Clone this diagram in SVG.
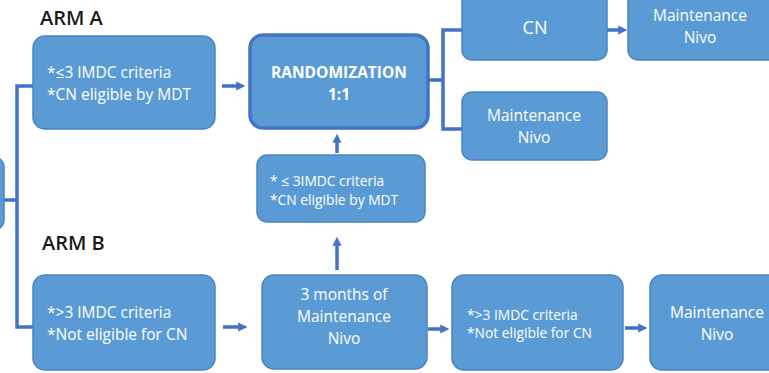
<svg xmlns="http://www.w3.org/2000/svg" width="769" height="373" viewBox="0 0 769 373">
<defs>
<style>
.box{fill:#5B9BD5;stroke:#4A84BE;stroke-width:1.5}
.rand{fill:#5B9BD5;stroke:#4472C4;stroke-width:3.5}
.t{fill:#fff;font-family:"Open Sans","Liberation Sans",Arial,sans-serif;font-size:15.5px}
.t.s{font-size:13.8px}
.t.b{font-size:15.5px;font-weight:bold}
.t.cn{font-size:18px}
.lbl{fill:#1a1a1a;font-family:"Open Sans","Liberation Sans",Arial,sans-serif;font-size:20px;font-weight:600}
.ln{fill:none;stroke:#4472C4;stroke-width:3.5}
.ar{fill:none;stroke:#4472C4;stroke-width:3.5;marker-end:url(#ah)}
</style>
<marker id="ah" viewBox="0 0 10 10" refX="2" refY="5" markerWidth="2.6" markerHeight="2.6" orient="auto" markerUnits="strokeWidth">
<path d="M0,0 L10,5 L0,10 z" fill="#4472C4"/>
</marker>
</defs>
<rect width="769" height="373" fill="#fff"/>
<text class="lbl" x="40" y="25">ARM A</text>
<text class="lbl" x="42" y="250">ARM B</text>
<g id="connectors">
<path class="ln" d="M2,200 H17 M35,86 H17 V327 H35"/>
<path class="ar" d="M222,86 H238"/>
<path class="ln" d="M428,80 H443 M462,30 H443 V129 H462"/>
<path class="ar" d="M607,30 H620"/>
<path class="ar" d="M337,153 V141"/>
<path class="ar" d="M337,270 V244"/>
<path class="ar" d="M223,327 H240"/>
<path class="ar" d="M428,329 H442"/>
<path class="ar" d="M625,328 H640"/>
</g>
<g id="left-partial"><rect class="box" x="-20" y="157" width="24" height="73" rx="10"/></g>
<g id="armA-criteria">
<rect class="box" x="33" y="36" width="182" height="93" rx="12"/>
<text class="t" x="47" y="78">*≤3 IMDC criteria</text>
<text class="t" x="47" y="100">*CN eligible by MDT</text>
</g>
<g id="randomization">
<rect class="rand" x="250" y="35" width="178" height="93" rx="13"/>
<text class="t b" x="339" y="78" text-anchor="middle">RANDOMIZATION</text>
<text class="t b" x="339" y="100" text-anchor="middle">1:1</text>
</g>
<g id="cn">
<rect class="box" x="462" y="-10" width="145" height="70" rx="10"/>
<text class="t cn" x="535" y="34" text-anchor="middle">CN</text>
</g>
<g id="maint-top">
<rect class="box" x="628" y="-10" width="150" height="70" rx="10"/>
<text class="t" x="700" y="21" text-anchor="middle">Maintenance</text>
<text class="t" x="700" y="43" text-anchor="middle">Nivo</text>
</g>
<g id="maint-mid">
<rect class="box" x="462" y="92" width="145" height="68" rx="10"/>
<text class="t" x="534" y="121" text-anchor="middle">Maintenance</text>
<text class="t" x="534" y="143" text-anchor="middle">Nivo</text>
</g>
<g id="mid-criteria">
<rect class="box" x="257" y="155" width="168" height="67" rx="10"/>
<text class="t s" x="270" y="186">* ≤ 3IMDC criteria</text>
<text class="t s" x="270" y="205">*CN eligible by MDT</text>
</g>
<g id="armB-criteria">
<rect class="box" x="33" y="275" width="182" height="95" rx="12"/>
<text class="t" x="47" y="318">*&gt;3 IMDC criteria</text>
<text class="t" x="47" y="340">*Not eligible for CN</text>
</g>
<g id="three-months">
<rect class="box" x="262" y="275" width="165" height="94" rx="12"/>
<text class="t" x="344" y="300" text-anchor="middle">3 months of</text>
<text class="t" x="344" y="322" text-anchor="middle">Maintenance</text>
<text class="t" x="344" y="344" text-anchor="middle">Nivo</text>
</g>
<g id="armB-criteria2">
<rect class="box" x="452" y="275" width="171" height="95" rx="12"/>
<text class="t s" x="467" y="320">*&gt;3 IMDC criteria</text>
<text class="t s" x="467" y="338">*Not eligible for CN</text>
</g>
<g id="maint-bottom">
<rect class="box" x="650" y="275" width="130" height="95" rx="12"/>
<text class="t" x="717" y="318" text-anchor="middle">Maintenance</text>
<text class="t" x="717" y="340" text-anchor="middle">Nivo</text>
</g>
</svg>
